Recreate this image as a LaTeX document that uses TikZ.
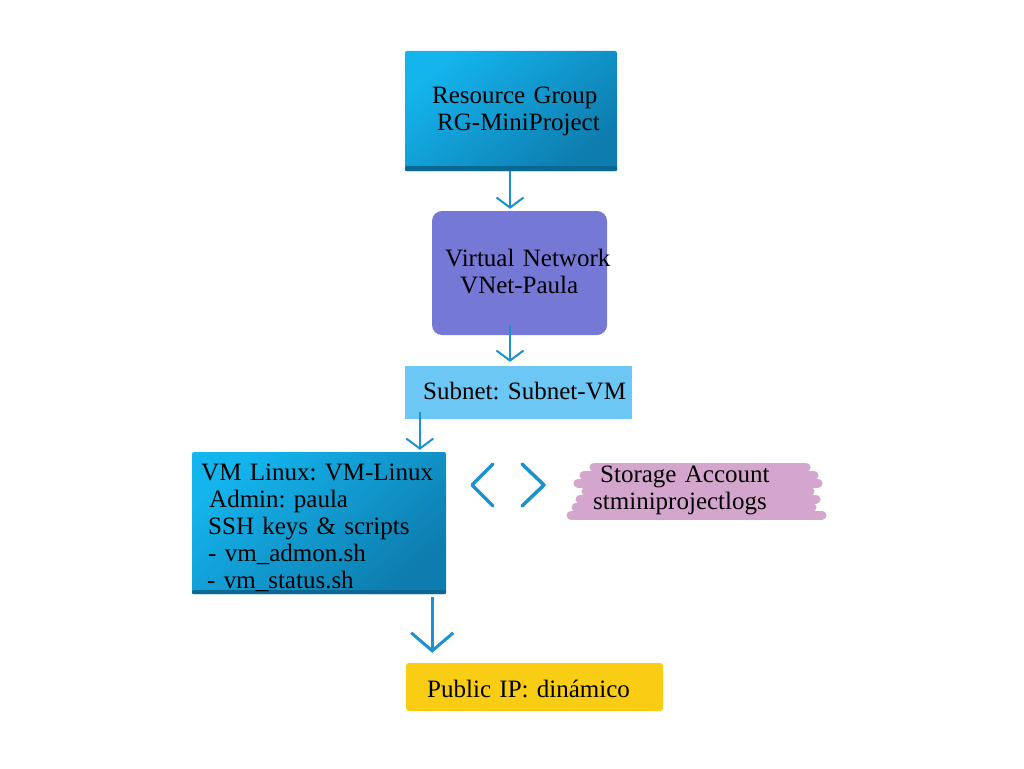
\documentclass[tikz,border=0pt]{standalone}
\usepackage{fontspec}
\setmainfont{Liberation Serif}
\usetikzlibrary{arrows.meta}
\definecolor{azureLight}{HTML}{14B4ED}
\definecolor{azureDark}{HTML}{0E7CAE}
\definecolor{azureEdge}{HTML}{0B6890}
\definecolor{vnetViolet}{HTML}{7678D5}
\definecolor{subnetSky}{HTML}{6DC7F4}
\definecolor{flowBlue}{HTML}{1A92CE}
\definecolor{storagePink}{HTML}{D4A6CE}
\definecolor{ipYellow}{HTML}{F9CD14}
\frenchspacing

\begin{document}
\begin{tikzpicture}[x=1pt,y=-1pt,
    boxtext/.style={anchor=base west, inner sep=0pt, text width=#1, align=left,
      font=\fontsize{25}{27}\selectfont},
    azurebox/.style={shade, top color=azureLight, bottom color=azureDark,
      shading angle=40, rounded corners=2pt, inner sep=0pt},
    flatbox/.style={fill=#1, inner sep=0pt},
    flow/.style={draw=flowBlue, line width=2pt,
      -{Straight Barb[length=10pt,width=27pt,line width=2pt]}},
    bigflow/.style={draw=flowBlue, line width=3pt,
      -{Straight Barb[length=18pt,width=42pt,line width=3pt]}},
    brush/.style={draw=storagePink, line width=9pt, line cap=round}]
  \useasboundingbox[fill=white] (0,0) rectangle (1024,768);

  % Boxes.
  \node[azurebox, minimum width=212pt, minimum height=120pt] (rg) at (511,111) {};
  \fill[azureEdge, rounded corners=2pt] (rg.south west) rectangle ([yshift=5pt]rg.south east);
  \node[flatbox=vnetViolet, rounded corners=10pt, minimum width=175pt, minimum height=124pt] (vnet) at (519.5,273) {};
  \node[flatbox=subnetSky, minimum width=227pt, minimum height=53pt] (subnet) at (518.5,392.5) {};
  \node[azurebox, minimum width=254pt, minimum height=142pt] (vm) at (319,523) {};
  \fill[azureEdge, rounded corners=2pt] (vm.south west) rectangle ([yshift=4pt]vm.south east);
  \node[flatbox=ipYellow, rounded corners=3pt, minimum width=257pt, minimum height=48pt] (pip) at (534.5,687) {};

  % Brush strokes behind the storage account.
  \foreach \y/\xa/\xb in {467/594/806, 475/584/814, 483/578/818, 491/586/810,
      499/580/816, 507/576/812, 515/571/822}
    \draw[brush] (\xa,\y) -- (\xb,\y);

  % Texts.
  \node[boxtext=200pt] (rgtext) at (432,103) {Resource Group\\\hspace*{5pt}RG-MiniProject};
  \node[boxtext=180pt] (vnettext) at (445,266) {Virtual Network\\\hspace*{15pt}VNet-Paula};
  \node[boxtext=220pt] (subnettext) at (423,399) {Subnet: Subnet-VM};
  \node[boxtext=250pt] (vmtext) at (201,480) {VM Linux: VM-Linux\\
    \hspace*{8pt}Admin: paula\\
    \hspace*{7pt}SSH keys \& scripts\\
    \hspace*{7pt}- vm\_admon.sh\\
    \hspace*{6pt}- vm\_status.sh};
  \node[boxtext=240pt] (storage) at (600,482) {Storage Account\\\hspace*{-7pt}stminiprojectlogs};
  \node[boxtext=240pt] (piptext) at (427,697) {Public IP: dinámico};

  % Connectors.
  \draw[flow] ([xshift=-1pt]rg.south) -- ([xshift=-1pt,yshift=2pt]rg.south |- vnet.north);
  \draw[flow] ([xshift=-9.5pt,yshift=10pt]vnet.south) -- ([xshift=-9.5pt,yshift=4pt]vnet.south |- subnet.north);
  \draw[flow] ([xshift=15pt,yshift=7pt]subnet.south west) -- ([xshift=15pt,yshift=2pt]subnet.south west |- vm.north);
  \draw[bigflow] ([xshift=-14pt,yshift=-3pt]vm.south east) -- ([xshift=-14pt,yshift=10pt]vm.south east |- pip.north);

  % Link between VM and storage.
  \draw[flowBlue, line width=3.5pt, line cap=round, line join=round]
    (493,464) -- (472,485) -- (493,506)
    (522,464) -- (544,485) -- (522,506);
\end{tikzpicture}
\end{document}
